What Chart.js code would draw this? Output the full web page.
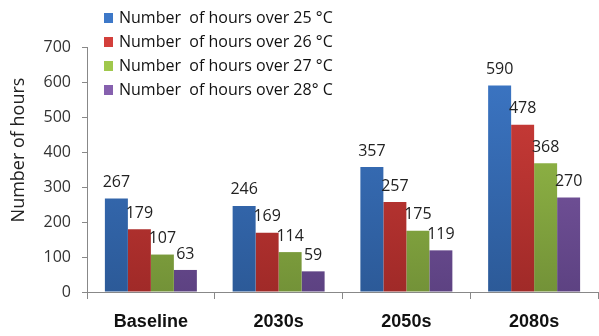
<!DOCTYPE html>
<html>
<head>
<meta charset="utf-8">
<script src="https://cdn.jsdelivr.net/npm/chart.js@4"></script>
<style>
  html, body { margin: 0; padding: 0; background: #fff; }
  #wrap { width: 599px; height: 336px; }
</style>
</head>
<body>
<div id="wrap"><canvas id="myChart" width="599" height="336"></canvas></div>
<script>
const categories = ['Baseline', '2030s', '2050s', '2080s'];
const seriesLabels = [
  'Number  of hours over 25 \u00B0C',
  'Number  of hours over 26 \u00B0C',
  'Number  of hours over 27 \u00B0C',
  'Number  of hours over 28\u00B0 C'
];
const over25 = [267, 246, 357, 590];
const over26 = [179, 169, 257, 478];
const over27 = [107, 114, 175, 368];
const over28 = [63, 59, 119, 270];
const yTicks = [0, 100, 200, 300, 400, 500, 600, 700];
const yTitle = 'Number of hours';

// top / bottom colours of each bar gradient
const colours = [
  ['#3d78c8', '#2c5a98'],
  ['#d33f3b', '#a02a28'],
  ['#a0c84c', '#739238'],
  ['#8660ae', '#5d4282']
];

function grad(i) {
  return function (ctx) {
    const area = ctx.chart.chartArea;
    if (!area) return colours[i][0];
    const g = ctx.chart.ctx.createLinearGradient(0, area.top, 0, area.bottom);
    g.addColorStop(0, colours[i][0]);
    g.addColorStop(1, colours[i][1]);
    return g;
  };
}

const values = [over25, over26, over27, over28];

// value labels above the bars
const valueLabels = {
  id: 'valueLabels',
  afterDatasetsDraw(chart) {
    const ctx = chart.ctx;
    ctx.save();
    ctx.font = '16px "Open Sans", "DejaVu Sans", sans-serif';
    ctx.fillStyle = '#222';
    ctx.textAlign = 'center';
    ctx.textBaseline = 'bottom';
    chart.data.datasets.forEach((ds, i) => {
      chart.getDatasetMeta(i).data.forEach((bar, j) => {
        ctx.fillText(ds.data[j], bar.x, bar.y - 8);
      });
    });
    ctx.restore();
  }
};

// legend drawn on top of the plot, top-left, plus the y title
const overlayLegend = {
  id: 'overlayLegend',
  afterDraw(chart) {
    const ctx = chart.ctx;
    ctx.save();
    ctx.font = '16px "Open Sans", "DejaVu Sans", sans-serif';
    ctx.textBaseline = 'middle';
    ctx.textAlign = 'left';
    chart.data.datasets.forEach((ds, i) => {
      const y = 18 + i * 24;
      ctx.fillStyle = colours[i][0];
      ctx.fillRect(104, y - 5, 9, 10);
      ctx.fillStyle = '#111';
      ctx.fillText(ds.label, 119, y);
    });
    // y axis title, a bit above the middle like the original
    ctx.font = '18px "Open Sans", "DejaVu Sans", sans-serif';
    ctx.fillStyle = '#222';
    ctx.textAlign = 'center';
    ctx.translate(19, 150);
    ctx.rotate(-Math.PI / 2);
    ctx.fillText(yTitle, 0, 0);
    ctx.restore();
  }
};

new Chart(document.getElementById('myChart'), {
  type: 'bar',
  data: {
    labels: categories,
    datasets: values.map((v, i) => ({
      label: seriesLabels[i],
      data: v,
      backgroundColor: grad(i),
      borderWidth: 0,
      barPercentage: 1,
      categoryPercentage: 0.72
    }))
  },
  options: {
    responsive: false,
    animation: false,
    layout: { padding: { left: 0, right: 1, top: 47, bottom: 3 } },
    plugins: {
      legend: { display: false },
      tooltip: { enabled: false }
    },
    scales: {
      x: {
        afterFit(scale) { scale.height = 41; },
        grid: {
          display: true,
          drawOnChartArea: false,
          color: '#888',
          tickLength: 7,
          offset: true
        },
        border: { color: '#888' },
        ticks: {
          color: '#111',
          font: { size: 18, weight: 'bold', family: '"Liberation Sans", Arial, sans-serif' },
          padding: 12
        }
      },
      y: {
        min: 0,
        max: 700,
        afterFit(scale) { scale.width = 87; },
        afterBuildTicks(axis) { axis.ticks = yTicks.map(v => ({ value: v })); },
        grid: {
          display: true,
          drawOnChartArea: false,
          color: '#888',
          tickLength: 5
        },
        border: { color: '#888' },
        ticks: {
          color: '#333',
          font: { size: 16, family: '"Open Sans", "DejaVu Sans", sans-serif' },
          padding: 11
        }
      }
    }
  },
  plugins: [valueLabels, overlayLegend]
});
</script>
</body>
</html>
